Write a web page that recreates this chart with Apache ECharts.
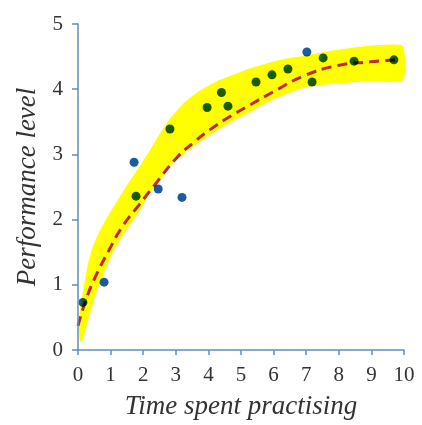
<!DOCTYPE html>
<html><head><meta charset="utf-8">
<script src="https://cdn.jsdelivr.net/npm/echarts@6/dist/echarts.min.js"></script>
<style>html,body{margin:0;padding:0;background:#fff}#c{width:422px;height:425px}</style>
</head><body><div id="c"></div>
<script>
// Data
var xTicks = [0,1,2,3,4,5,6,7,8,9,10];
var yTicks = [0,1,2,3,4,5];
var xTitle = 'Time spent practising';
var yTitle = 'Performance level';
var observations = [[0.15,0.73],[0.8,1.04],[1.72,2.88],[1.78,2.36],[2.46,2.47],[2.82,3.39],[3.19,2.34],[3.96,3.72],[4.4,3.95],[4.6,3.74],[5.46,4.11],[5.95,4.22],[6.44,4.31],[7.02,4.57],[7.52,4.48],[7.18,4.11],[8.47,4.43],[9.69,4.45]];
var fitCurve = [[0,0.37],[0.25,0.78],[0.55,1.14],[0.96,1.54],[1.37,1.9],[1.88,2.23],[2.35,2.53],[3.03,2.95],[3.54,3.18],[4.05,3.38],[4.66,3.58],[5.28,3.76],[5.99,3.96],[6.91,4.2],[7.94,4.36],[8.96,4.42],[9.8,4.45]];
var bandUpper = [[0.06,0.12],[0.03,0.35],[0.06,0.62],[0.17,0.95],[0.3,1.3],[0.45,1.58],[0.7,1.86],[0.96,2.09],[1.27,2.34],[1.57,2.58],[1.93,2.85],[2.25,3.1],[2.72,3.48],[3.23,3.78],[3.74,3.98],[4.25,4.12],[4.76,4.22],[5.28,4.32],[5.89,4.41],[6.4,4.47],[6.91,4.51],[7.42,4.56],[8.45,4.64],[9.4,4.68],[9.97,4.66]];
var bandLower = [[0.14,0.15],[0.35,0.52],[0.55,0.86],[0.75,1.12],[1.11,1.54],[1.57,1.9],[1.98,2.21],[2.28,2.47],[2.7,2.72],[2.92,2.87],[3.54,3.12],[4.15,3.33],[4.76,3.51],[5.28,3.65],[5.89,3.82],[6.91,4.02],[7.94,4.09],[8.96,4.12],[9.97,4.14]];

var chart = echarts.init(document.getElementById('c'), null, {renderer:'canvas'});
var axisColor = '#5f8fc0';
var font = 'Liberation Serif';
chart.setOption({
  animation: false,
  backgroundColor: '#fff',
  grid: {left: 78, right: 18, top: 24, bottom: 74, containLabel: false},
  xAxis: {
    type: 'value', min: xTicks[0], max: xTicks[xTicks.length-1], interval: 1,
    name: xTitle, nameLocation: 'middle', nameGap: 43,
    nameTextStyle: {fontFamily: font, fontStyle: 'italic', fontSize: 27, color: '#333'},
    axisLine: {show: true, lineStyle: {color: axisColor, width: 1.5}},
    axisTick: {show: true, length: 5, lineStyle: {color: axisColor, width: 1.5}},
    axisLabel: {fontFamily: font, fontSize: 21, color: '#333', margin: 15},
    splitLine: {show: false}, z: 5
  },
  yAxis: {
    type: 'value', min: yTicks[0], max: yTicks[yTicks.length-1], interval: 1,
    name: yTitle, nameLocation: 'middle', nameGap: 37, nameRotate: 90,
    nameTextStyle: {fontFamily: font, fontStyle: 'italic', fontSize: 27, color: '#333'},
    axisLine: {show: true, lineStyle: {color: axisColor, width: 1.5}},
    axisTick: {show: true, length: 6, lineStyle: {color: axisColor, width: 1.5}},
    axisLabel: {fontFamily: font, fontSize: 21, color: '#333', margin: 15},
    splitLine: {show: false}, z: 5
  },
  series: [
    {
      type: 'custom', z: 1, silent: true,
      data: [[0, 0]],
      renderItem: function (params, api) {
        var pts = [];
        bandUpper.forEach(function (p) { pts.push(api.coord(p)); });
        for (var i = bandLower.length - 1; i >= 0; i--) pts.push(api.coord(bandLower[i]));
        return {type: 'polygon', shape: {points: pts, smooth: 0.2}, style: {fill: '#ffff00', stroke: null}};
      }
    },
    {
      type: 'line', z: 3, data: fitCurve, smooth: true, symbol: 'none',
      lineStyle: {color: '#c0282a', width: 3, type: [10, 6]}
    },
    {
      type: 'scatter', z: 4, data: observations, symbolSize: 9,
      blendMode: 'multiply',
      itemStyle: {color: '#1b5c9e', opacity: 1}
    }
  ]
});
</script></body></html>
